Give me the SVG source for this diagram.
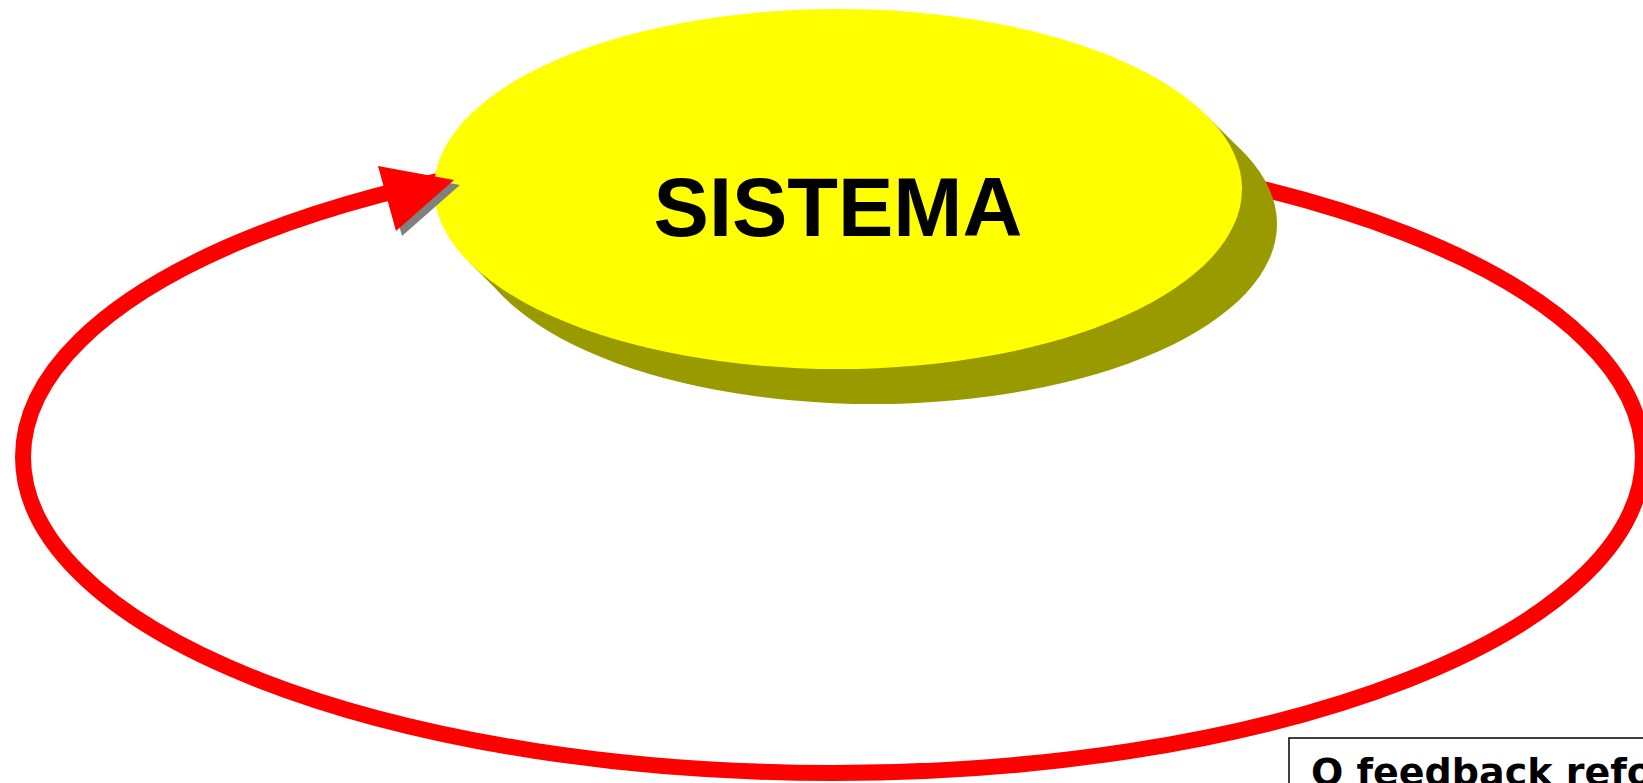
<svg xmlns="http://www.w3.org/2000/svg" width="1643" height="783" viewBox="0 0 1643 783">
<style>
.loop{fill:none;stroke:#ff0000;stroke-width:16}
.shadow{fill:#999900}
.label{font-family:"Liberation Sans",Arial,sans-serif;font-weight:bold;font-size:83px;fill:#000}
.note{font-family:"DejaVu Sans",Verdana,sans-serif;font-weight:bold;font-size:38px;fill:#000}
</style>
<rect width="1643" height="783" fill="#fff"/>
<g id="connectors">
<ellipse class="loop" cx="833" cy="457" rx="810" ry="316"/>
</g>
<g id="sistema">
<polygon class="shadow" points="1207,116 1242,151 504,297 469,262"/>
<ellipse class="shadow" cx="873" cy="224" rx="404" ry="180"/>
<ellipse cx="838" cy="189" rx="404" ry="180" fill="#ffff00"/>
<text class="label" x="838" y="236" text-anchor="middle">SISTEMA</text>
</g>
<g id="arrowhead">
<polygon points="384,171 460,185 402,236" fill="#808080"/>
<polygon points="378,166 454,180 396,231" fill="#ff0000"/>
</g>
<g id="note">
<rect x="1289" y="738" width="400" height="100" fill="#fff" stroke="#000" stroke-width="1.5"/>
<text class="note" x="1311" y="785">O feedback refo</text>
</g>
</svg>
